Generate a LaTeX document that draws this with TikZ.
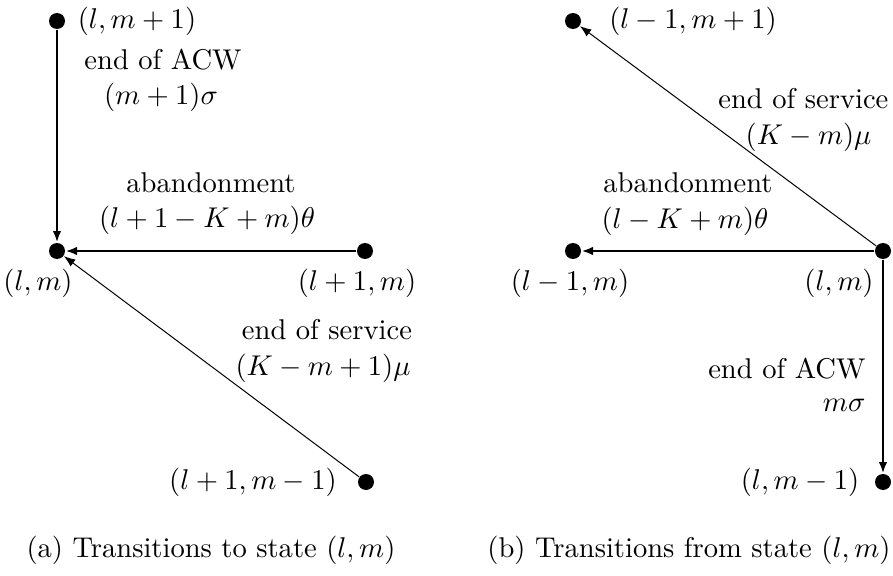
\documentclass[tikz,border=0pt]{standalone}
\usepackage{amsmath, amssymb}
\usetikzlibrary{arrows.meta}

\tikzset{
  state/.style={circle, fill=black, inner sep=0pt, minimum size=5.6pt},
  lbl/.style={inner sep=0pt},
  rate/.style={-{Latex[length=4pt,width=3pt]}},
}

\begin{document}
\begin{tikzpicture}[x=0.35pt, y=-0.35pt]
        \useasboundingbox (0,0) rectangle (893,576);
        % (a) transitions to state (l,m)
        \node[state] (a0) at (57,251) {};
        \node[state] (a1) at (57,21) {};
        \node[state] (a2) at (365,251) {};
        \node[state] (a3) at (366,482) {};
        \node[lbl] (a1l) at (137,21) {$(l,m+1)$};
        \node[lbl] (a0l) at (38,283) {$(l,m)$};
        \node[lbl] (a2l) at (357,283) {$(l+1,m)$};
        \node[lbl] (a3l) at (253,482) {$(l+1,m-1)$};
        \draw[rate, line width=0.8pt] (a1) -- (a0);
        \draw[rate, line width=0.8pt] (a2) -- (a0);
        \draw[rate, line width=0.35pt] (a3) -- (a0);
        \node[lbl] (acw1) at (163,60) {end of ACW};
        \node[lbl] (acw1r) at (161,97) {$(m+1)\sigma$};
        \node[lbl] (ab1) at (211,183) {abandonment};
        \node[lbl] (ab1r) at (207,220) {$(l+1-K+m)\theta$};
        \node[lbl] (srv1) at (327,330) {end of service};
        \node[lbl] (srv1r) at (323,368) {$(K-m+1)\mu$};
        \node (capa) at (211,550) {(a) Transitions to state $(l,m)$};
        % (b) transitions from state (l,m)
        \node[state] (b0) at (883,251) {};
        \node[state] (b1) at (573,21) {};
        \node[state] (b2) at (573,251) {};
        \node[state] (b3) at (883,482) {};
        \node[lbl] (b1l) at (693,21) {$(l-1,m+1)$};
        \node[lbl] (b0l) at (839,283) {$(l,m)$};
        \node[lbl] (b2l) at (570,283) {$(l-1,m)$};
        \node[lbl] (b3l) at (800,482) {$(l,m-1)$};
        \draw[rate, line width=0.35pt] (b0) -- (b1);
        \draw[rate, line width=0.8pt] (b0) -- (b2);
        \draw[rate, line width=0.8pt] (b0) -- (b3);
        \node[lbl, anchor=east] (srv2) at (889,99) {end of service};
        \node[lbl, anchor=east] (srv2r) at (872,137) {$(K-m)\mu$};
        \node[lbl] (ab2) at (688,183) {abandonment};
        \node[lbl] (ab2r) at (685,221) {$(l-K+m)\theta$};
        \node[lbl, anchor=east] (acw2) at (866,369) {end of ACW};
        \node[lbl, anchor=east] (acw2r) at (866,405) {$m\sigma$};
        \node (capb) at (689,550) {(b) Transitions from state $(l,m)$};
      \end{tikzpicture}
\end{document}
